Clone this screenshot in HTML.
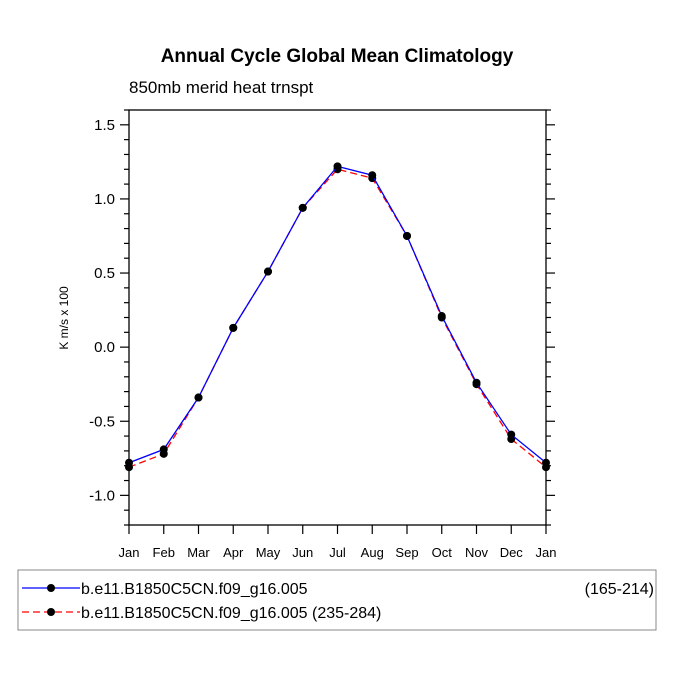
<!DOCTYPE html>
<html><head><meta charset="utf-8"><style>
body{margin:0;background:#fff;}
svg{display:block;font-family:"Liberation Sans",Arial,sans-serif;}
</style></head><body>
<svg id="chart" width="675" height="676">
<text x="337" y="62" text-anchor="middle" font-size="19" font-weight="bold">Annual Cycle Global Mean Climatology</text>
<text x="129" y="93" font-size="17">850mb merid heat trnspt</text>
<text transform="translate(68,318) rotate(-90)" text-anchor="middle" font-size="12">K m/s x 100</text>
<g id="axes"></g>
<g id="series"></g>
<rect x="18" y="570" width="638" height="60" fill="none" stroke="#888" stroke-width="1"/>
<g>
<line x1="22" y1="588" x2="80" y2="588" stroke="#00f" stroke-width="1.3"/>
<circle cx="51" cy="588" r="4" fill="#000"/>
<text x="81" y="594" font-size="16">b.e11.B1850C5CN.f09_g16.005</text>
<text x="654" y="594" font-size="16" text-anchor="end">(165-214)</text>
</g>
<g>
<line x1="22" y1="612" x2="80" y2="612" stroke="#f00" stroke-width="1.3" stroke-dasharray="7,4"/>
<circle cx="51" cy="612" r="4" fill="#000"/>
<text x="81" y="618" font-size="16">b.e11.B1850C5CN.f09_g16.005 (235-284)</text>
</g>
</svg>
<script>
const months=["Jan","Feb","Mar","Apr","May","Jun","Jul","Aug","Sep","Oct","Nov","Dec","Jan"];
const blueValues=[-0.78,-0.69,-0.34,0.13,0.51,0.94,1.22,1.16,0.75,0.21,-0.24,-0.59,-0.78];
const redValues=[-0.81,-0.72,-0.34,0.13,0.51,0.94,1.20,1.14,0.75,0.20,-0.25,-0.62,-0.81];
const yTicks=[1.5,1.0,0.5,0.0,-0.5,-1.0];
const yTickLabels=["1.5","1.0","0.5","0.0","-0.5","-1.0"];
const L=129,R=546,T=110,B=525,YMIN=-1.2,YMAX=1.6;
const NS="http://www.w3.org/2000/svg";
function xs(i){return L+(R-L)*i/(months.length-1);}
function ys(v){return B-(v-YMIN)/(YMAX-YMIN)*(B-T);}
function mk(tag,attrs,parent){const e=document.createElementNS(NS,tag);for(const k in attrs)e.setAttribute(k,attrs[k]);parent.appendChild(e);return e;}
const ax=document.getElementById('axes');
const frame=mk('rect',{x:L,y:T,width:R-L,height:B-T,fill:'none',stroke:'#000','stroke-width':1.3},ax);


for(let k=-12;k<=16;k++){const v=k/10;const y=ys(v);const major=(k%5===0);const len=major?9:5;
 mk('line',{x1:L-len,y1:y,x2:L,y2:y,stroke:'#000','stroke-width':1.2},ax);
 mk('line',{x1:R,y1:y,x2:R+len,y2:y,stroke:'#000','stroke-width':1.2},ax);}
yTicks.forEach((v,i)=>{const t=mk('text',{x:L-14,y:ys(v)+5,'text-anchor':'end','font-size':15},ax);t.textContent=yTickLabels[i];
 
 });
months.forEach((m,i)=>{const x=xs(i);mk('line',{x1:x,y1:B,x2:x,y2:B+9,stroke:'#000','stroke-width':1.2},ax);
 const t=mk('text',{x:x,y:B+32,'text-anchor':'middle','font-size':13},ax);t.textContent=m;
 
 });
const sg=document.getElementById('series');
function series(vals,color,dash,name){const g=mk('g',{},sg);
 
 
 const pts=vals.map((v,i)=>xs(i)+','+ys(v)).join(' ');
 const a={points:pts,fill:'none',stroke:color,'stroke-width':1.3};if(dash)a['stroke-dasharray']=dash;mk('polyline',a,g);
 vals.forEach((v,i)=>{const c=mk('circle',{cx:xs(i),cy:ys(v),r:4,fill:'#000'},g);
  
  });}
series(redValues,'#f00','7,4','series-235-284');
series(blueValues,'#00f',null,'series-165-214');
</script>
</body></html>
